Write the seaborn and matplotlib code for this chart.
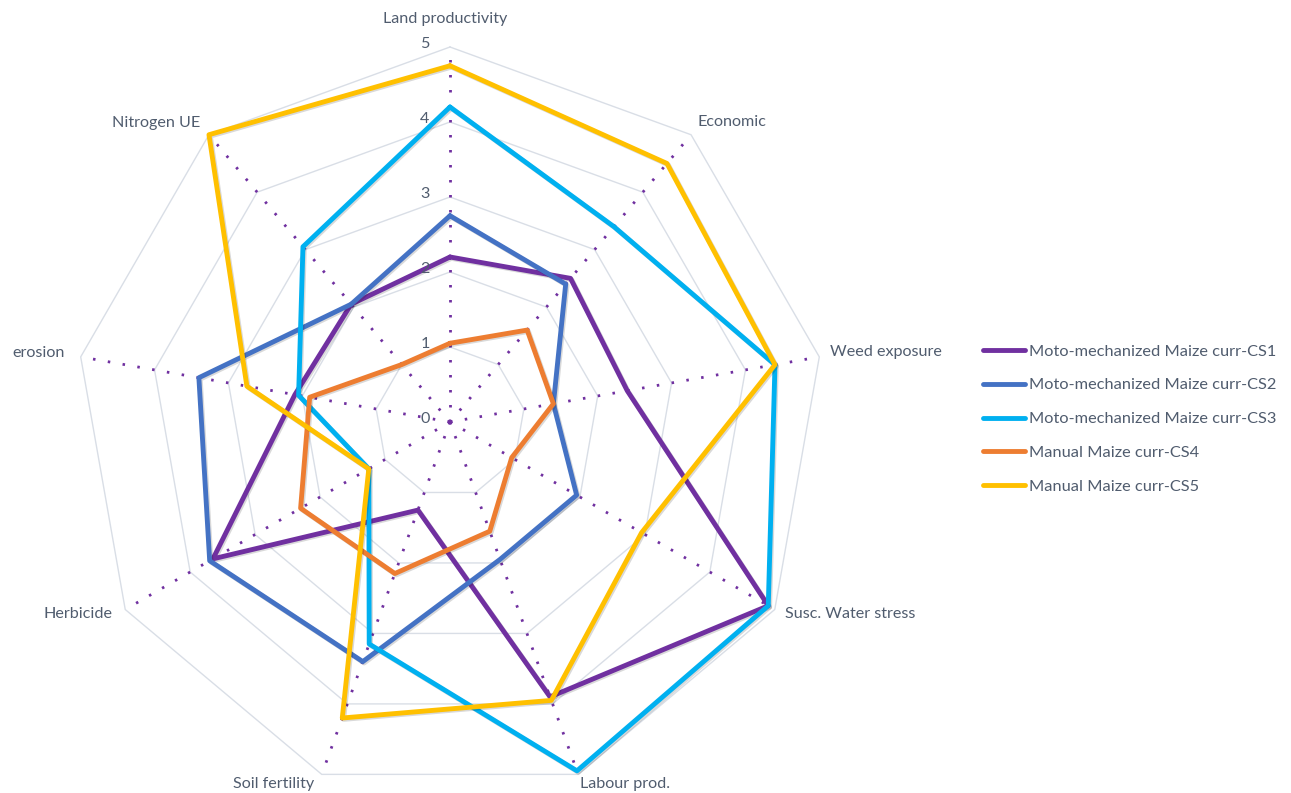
import numpy as np
import pandas as pd
import matplotlib
matplotlib.use('Agg')
import matplotlib.pyplot as plt
import matplotlib.patheffects as pe
import seaborn as sns

# ---- data ----
categories = ['Land productivity', 'Economic', 'Weed exposure', 'Susc. Water stress',
              'Labour prod.', 'Soil fertility', 'Herbicide', 'erosion', 'Nitrogen UE']
series_names = ['Moto-mechanized Maize curr-CS1', 'Moto-mechanized Maize curr-CS2',
                'Moto-mechanized Maize curr-CS3', 'Manual Maize curr-CS4',
                'Manual Maize curr-CS5']
cs1 = [2.2, 2.5, 2.4, 4.9, 3.9, 1.25, 3.65, 2.1, 2.05]
cs2 = [2.75, 2.4, 1.4, 1.95, 1.95, 3.4, 3.7, 3.4, 2.05]
cs3 = [4.2, 3.4, 4.4, 4.9, 4.95, 3.15, 1.25, 2.05, 3.05]
cs4 = [1.05, 1.6, 1.4, 0.95, 1.55, 2.15, 2.3, 1.9, 1.0]
cs5 = [4.75, 4.5, 4.4, 2.95, 3.95, 4.2, 1.25, 2.75, 5.0]
r_ticks = [0, 1, 2, 3, 4, 5]

colors = ['#7030A0', '#4472C4', '#00B0F0', '#ED7D31', '#FFC000']
text_col = '#505C6E'
grid_col = '#D9DEE6'

# label offsets (pixels) from the outer end of each spoke
label_pos = [(-5, 28, 'center'), (6, 13, 'left'), (11, 5, 'left'), (10, -4, 'left'),
             (2, -10, 'left'), (-7, -10, 'right'), (-13, -4, 'right'),
             (-16, 4, 'right'), (-9, 12, 'right')]

sns.set_style('white')
plt.rcParams['font.family'] = ['Lato', 'DejaVu Sans']

n = len(categories)
theta = np.arange(n) * 2 * np.pi / n
theta_closed = np.append(theta, theta[0])

rows = []
for name, vals in zip(series_names, [cs1, cs2, cs3, cs4, cs5]):
    for i, (t, v) in enumerate(zip(theta_closed, vals + vals[:1])):
        rows.append({'series': name, 'order': i, 'theta': t, 'value': v})
df = pd.DataFrame(rows)

fig = plt.figure(figsize=(12.91, 7.93), dpi=100)
ax = fig.add_axes([75 / 1291, -4 / 793, 750 / 1291, 750 / 793], projection='polar')
ax.set_theta_offset(np.pi / 2)
ax.set_theta_direction(-1)
ax.set_ylim(0, 5)
ax.grid(False)
ax.set_xticks([])
ax.set_yticks([])
ax.spines['polar'].set_visible(False)
ax.patch.set_alpha(0)

# polygon gridlines
for r in r_ticks[1:]:
    ax.plot(theta_closed, [r] * (n + 1), color=grid_col, lw=1.0, zorder=1, clip_on=False)
# dotted spokes
for t in theta:
    ax.plot([t, t], [0, r_ticks[-1]], color='#7030A0', lw=2.0,
            linestyle=(0, (0.9, 4.5)), zorder=2, clip_on=False)

sns.lineplot(data=df, x='theta', y='value', hue='series', hue_order=series_names,
             palette=colors, sort=False, estimator=None, units='series',
             lw=3.5, ax=ax, legend=False, zorder=3)
for line in ax.lines[-len(series_names):]:
    line.set_clip_on(False)
    line.set_path_effects([pe.SimpleLineShadow(offset=(1, -1), alpha=0.15),
                           pe.Normal()])

ax.set_xlabel('')
ax.set_ylabel('')

# category labels
for t, lab, (dx, dy, ha) in zip(theta, categories, label_pos):
    ax.annotate(lab, xy=(t, r_ticks[-1]), xytext=(dx, dy), textcoords='offset pixels',
                ha=ha, va='center', fontsize=11.6, color=text_col)

# radial tick labels
for r in r_ticks:
    ax.annotate(str(r), xy=(0, r), xytext=(-25, 3), textcoords='offset pixels',
                ha='center', va='center', fontsize=11.6, color=text_col)

handles = [plt.Line2D([], [], color=c, lw=3.5, solid_capstyle='round') for c in colors]
fig.legend(handles, series_names, loc='center left',
           bbox_to_anchor=(983 / 1291, 1 - 419 / 793), frameon=False,
           fontsize=11.8, handlelength=2.55, handletextpad=0.25, labelspacing=1.18,
           borderpad=0, borderaxespad=0, labelcolor=text_col)

fig.savefig('out.png', dpi=100)
